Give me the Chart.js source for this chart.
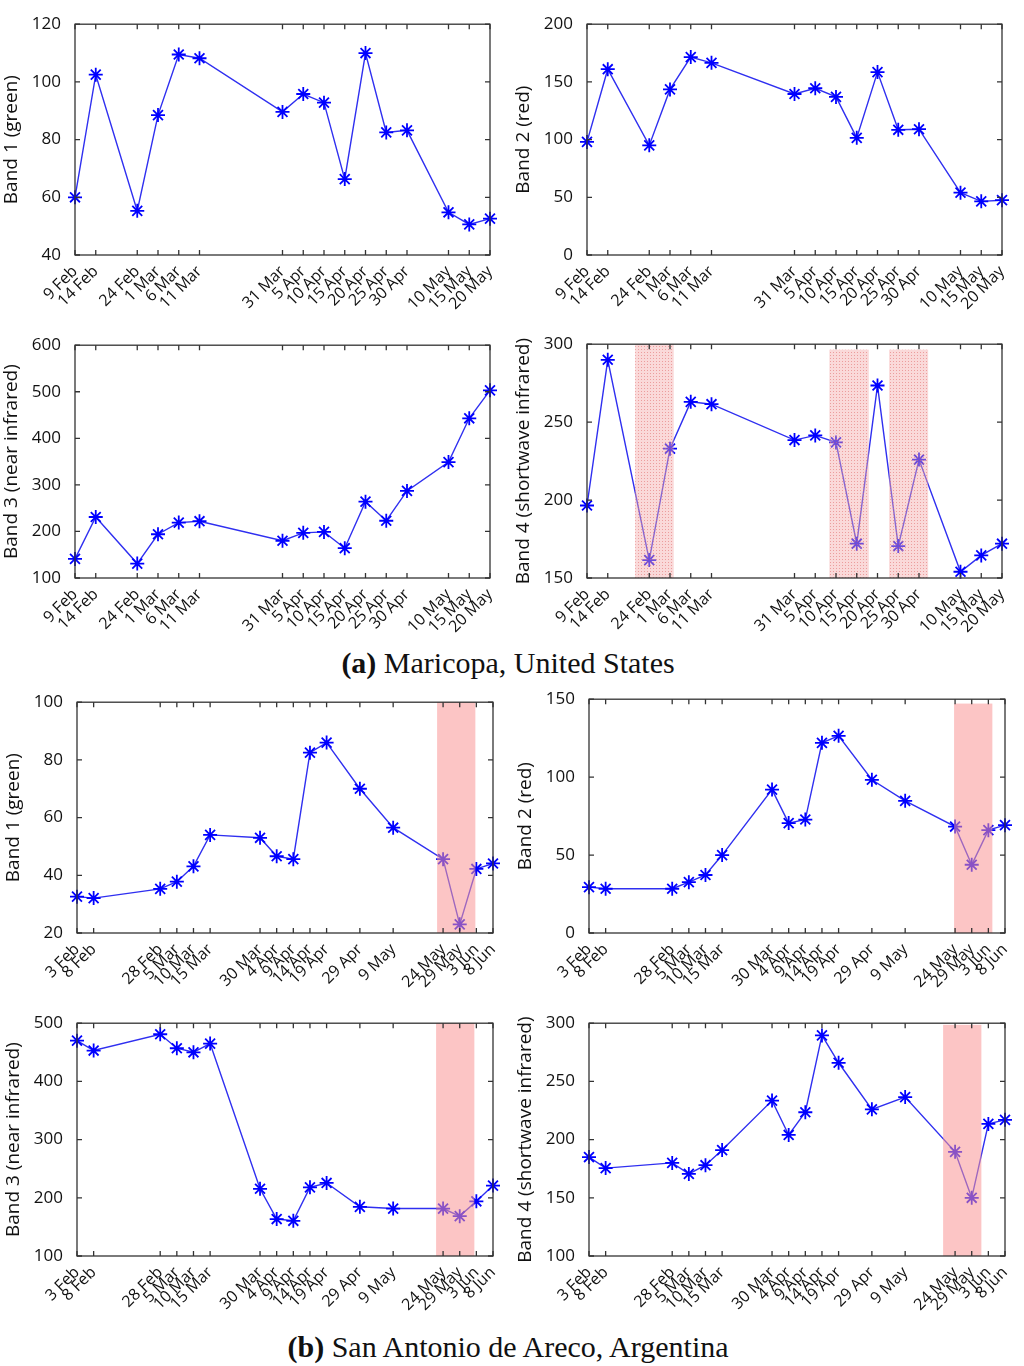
<!DOCTYPE html>
<html>
<head>
<meta charset="utf-8">
<script src="https://cdn.jsdelivr.net/npm/chart.js@4.4.1/dist/chart.umd.min.js"></script>
<style>
  body { margin: 0; background: #fff; width: 1024px; height: 1366px; position: relative; overflow: hidden; }
  canvas { position: absolute; }
  .cap { position: absolute; left: 0; width: 1016px; text-align: center; font-family: "Liberation Serif", "DejaVu Serif", serif; font-size: 30px; color: #111; }
</style>
</head>
<body>
<div class="cap" style="top:646px"><b>(a)</b> Maricopa, United States</div>
<div class="cap" style="top:1330px"><b>(b)</b> San Antonio de Areco, Argentina</div>

<script>
// (a) Maricopa: acquisition dates, days since 9 Feb
const datesA = ['9 Feb', '14 Feb', '24 Feb', '1 Mar', '6 Mar', '11 Mar', '31 Mar', '5 Apr', '10 Apr', '15 Apr', '20 Apr', '25 Apr', '30 Apr', '10 May', '15 May', '20 May'];
const daysA = [0, 5, 15, 20, 25, 30, 50, 55, 60, 65, 70, 75, 80, 90, 95, 100];

const band1A = [60, 102.5, 55.3, 88.5, 109.5, 108.2, 89.6, 95.8, 92.8, 66.3, 110, 82.5, 83.2, 54.8, 50.6, 52.6];
const band2A = [98, 161, 95, 143.5, 171.5, 166.5, 139.5, 144.5, 137, 101.5, 158.5, 108.5, 109, 54, 46.5, 47.5];
const band3A = [141, 231, 131, 194, 219, 222, 180, 197, 199, 164, 264, 223, 287, 349, 443, 503];
const band4A = [196.5, 290, 161.5, 233, 263, 261.5, 238.5, 241.5, 237, 172, 273.5, 170.5, 226, 154, 164.5, 172];
const shadeA4 = [[11.6, 20.9, 300], [58.4, 67.9, 296.5], [72.8, 82.2, 296.5]];

// (b) San Antonio de Areco: days since 3 Feb
const datesB = ['3 Feb', '8 Feb', '28 Feb', '5 Mar', '10 Mar', '15 Mar', '30 Mar', '4 Apr', '9 Apr', '14 Apr', '19 Apr', '29 Apr', '9 May', '24 May', '29 May', '3 Jun', '8 Jun'];
const daysB = [0, 5, 25, 30, 35, 40, 55, 60, 65, 70, 75, 85, 95, 110, 115, 120, 125];

const band1B = [32.6, 32.1, 35.3, 37.8, 43.1, 54, 53, 46.6, 45.6, 82.5, 86, 70, 56.5, 45.6, 23, 42.2, 44.1];
const band2B = [29.4, 28.4, 28.4, 32.6, 37.2, 50, 92, 70.5, 72.8, 122, 126.5, 98.3, 84.8, 68.3, 43.8, 66, 69.2];
const band3B = [470, 453, 481, 457, 450, 465, 215.5, 163.5, 160.5, 218, 225.5, 184.5, 181.5, 181.5, 168.5, 194, 221];
const band4B = [185, 175.5, 180, 170.5, 178, 191, 233.5, 204, 223.5, 289.5, 266, 226, 236.5, 189.5, 150, 213.5, 217];
const shadeB1 = [[108.2, 119.7, 100]];
const shadeB2 = [[109.7, 121.2, 147.2]];
const shadeB3 = [[107.9, 119.4, 500]];
const shadeB4 = [[106.4, 117.9, 298.6]];

// little dotted texture for the Maricopa masks
function dotPattern() {
  const c = document.createElement('canvas');
  c.width = 3; c.height = 3;
  const g = c.getContext('2d');
  g.fillStyle = 'rgba(244,170,170,0.45)';
  g.fillRect(0, 0, 3, 3);
  g.fillStyle = 'rgba(225,110,110,0.55)';
  g.fillRect(0, 0, 1, 1);
  return g.createPattern(c, 'repeat');
}

const framePlugin = {
  id: 'frame',
  afterDatasetsDraw(chart, args, opts) {
    const { ctx, chartArea: a, scales: { x, y } } = chart;
    ctx.save();
    (opts.shades || []).forEach(s => {
      const x0 = x.getPixelForValue(s[0]);
      const x1 = x.getPixelForValue(s[1]);
      const yt = y.getPixelForValue(s[2]);
      ctx.fillStyle = opts.dotted ? dotPattern() : 'rgba(250,150,150,0.55)';
      ctx.fillRect(x0, yt, x1 - x0, a.bottom - yt);
    });
    ctx.strokeStyle = '#333';
    ctx.lineWidth = 1.3;
    ctx.strokeRect(a.left, a.top, a.right - a.left, a.bottom - a.top);
    ctx.beginPath();
    x.ticks.forEach(t => {
      const px = x.getPixelForValue(t.value);
      ctx.moveTo(px, a.bottom); ctx.lineTo(px, a.bottom - 5);
      ctx.moveTo(px, a.top); ctx.lineTo(px, a.top + 5);
    });
    y.ticks.forEach(t => {
      const py = y.getPixelForValue(t.value);
      ctx.moveTo(a.left, py); ctx.lineTo(a.left + 5, py);
      ctx.moveTo(a.right, py); ctx.lineTo(a.right - 5, py);
    });
    ctx.stroke();
    ctx.restore();
  }
};

function drawPanel(box, title, labels, days, values, yMin, yMax, yStep, shades, dotted) {
  const [L, T, R, B] = box;
  const cv = document.createElement('canvas');
  const w = R - L + 75 + 30, h = B - T + 15 + 85;
  cv.width = w; cv.height = h;
  cv.style.left = (L - 75) + 'px';
  cv.style.top = (T - 15) + 'px';
  document.body.appendChild(cv);

  new Chart(cv, {
    type: 'line',
    data: {
      datasets: [{
        data: days.map((d, i) => ({ x: d, y: values[i] })),
        borderColor: '#2f2ff0',
        borderWidth: 1.4,
        pointStyle: 'star',
        pointRadius: 7,
        pointBorderWidth: 1.8,
        pointBorderColor: '#0000ff',
        pointBackgroundColor: '#0000ff',
        tension: 0,
        clip: false
      }]
    },
    options: {
      responsive: false,
      animation: false,
      layout: { padding: { top: 15, right: 30, left: 0, bottom: 0 } },
      plugins: {
        legend: { display: false },
        tooltip: { enabled: false },
        frame: { shades: shades, dotted: dotted }
      },
      scales: {
        x: {
          type: 'linear',
          min: days[0],
          max: days[days.length - 1],
          grid: { display: false, drawTicks: false },
          border: { display: false },
          afterBuildTicks: s => { s.ticks = days.map(v => ({ value: v })); },
          afterFit: s => { s.height = 85; },
          ticks: {
            autoSkip: false,
            minRotation: 45,
            maxRotation: 45,
            padding: 7,
            color: '#111',
            font: { family: 'Open Sans', size: 16 },
            callback: v => labels[days.indexOf(v)]
          }
        },
        y: {
          min: yMin,
          max: yMax,
          grid: { display: false },
          border: { display: false },
          afterFit: s => { s.width = 75; },
          ticks: {
            stepSize: yStep,
            padding: 6,
            color: '#111',
            font: { family: 'Open Sans', size: 17 }
          },
          title: {
            display: true,
            text: title,
            color: '#111',
            padding: { top: 0, bottom: 3 },
            font: { family: 'Open Sans', size: 19 }
          }
        }
      }
    },
    plugins: [framePlugin]
  });
}

drawPanel([75, 23, 490, 255], 'Band 1 (green)', datesA, daysA, band1A, 40, 120, 20, [], false);
drawPanel([587, 23, 1002, 255], 'Band 2 (red)', datesA, daysA, band2A, 0, 200, 50, [], false);
drawPanel([75, 344, 490, 578], 'Band 3 (near infrared)', datesA, daysA, band3A, 100, 600, 100, [], false);
drawPanel([587, 343, 1002, 578], 'Band 4 (shortwave infrared)', datesA, daysA, band4A, 150, 300, 50, shadeA4, true);

drawPanel([77, 701, 493, 933], 'Band 1 (green)', datesB, daysB, band1B, 20, 100, 20, shadeB1, false);
drawPanel([589, 698, 1005, 933], 'Band 2 (red)', datesB, daysB, band2B, 0, 150, 50, shadeB2, false);
drawPanel([77, 1022, 493, 1256], 'Band 3 (near infrared)', datesB, daysB, band3B, 100, 500, 100, shadeB3, false);
drawPanel([589, 1022, 1005, 1256], 'Band 4 (shortwave infrared)', datesB, daysB, band4B, 100, 300, 50, shadeB4, false);
</script>
</body>
</html>
